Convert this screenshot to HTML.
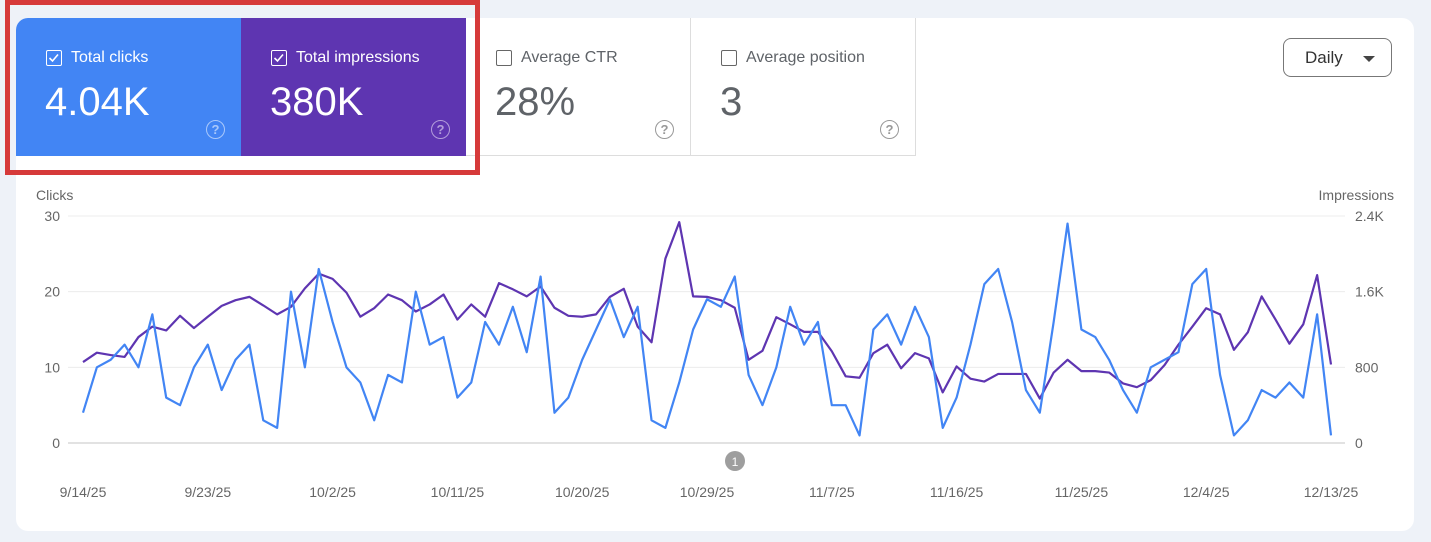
<!DOCTYPE html>
<html><head><meta charset="utf-8"><style>
body{margin:0;width:1431px;height:542px;background:#eef2f8;font-family:"Liberation Sans",Arial,sans-serif;position:relative;overflow:hidden}
.main{position:absolute;left:16px;top:18px;width:1398px;height:513px;background:#fff;border-radius:12px}
.card{position:absolute;top:18px;height:138px;width:225px;box-sizing:border-box}
.lab{position:absolute;left:30px;top:31px;font-size:16px;display:flex;align-items:center}
.cb{width:14px;height:14px;border:1.5px solid;border-radius:2px;margin-right:9px;display:inline-block;position:relative}
.val{position:absolute;left:29px;top:62px;font-size:40px}
.help{position:absolute;right:16px;top:102px;width:17px;height:17px;border:1.8px solid;border-radius:50%;font-size:13px;text-align:center;line-height:17px;font-weight:bold}
</style></head><body>
<div class="main"></div>
<div class="card" style="left:16px;background:#4285f4;color:#fff;border-top-left-radius:12px">
 <div class="lab"><span class="cb" style="border-color:#fff"><svg width="14" height="14" style="position:absolute;left:0;top:0"><path d="M2.5 7l3 3 5.5-6.5" stroke="#fff" stroke-width="1.6" fill="none"/></svg></span>Total clicks</div>
 <div class="val">4.04K</div><div class="help" style="border-color:#a9c8fb;color:#a9c8fb">?</div></div>
<div class="card" style="left:241px;background:#5e35b1;color:#fff">
 <div class="lab"><span class="cb" style="border-color:#fff"><svg width="14" height="14" style="position:absolute;left:0;top:0"><path d="M2.5 7l3 3 5.5-6.5" stroke="#fff" stroke-width="1.6" fill="none"/></svg></span>Total impressions</div>
 <div class="val">380K</div><div class="help" style="border-color:#b39ddb;color:#b39ddb">?</div></div>
<div class="card" style="left:466px;background:#fff;color:#5f6368;border-right:1px solid #ddd;border-bottom:1px solid #ddd">
 <div class="lab"><span class="cb" style="border-color:#666"></span>Average CTR</div>
 <div class="val">28%</div><div class="help" style="border-color:#999;color:#999">?</div></div>
<div class="card" style="left:691px;background:#fff;color:#5f6368;border-right:1px solid #ddd;border-bottom:1px solid #ddd">
 <div class="lab"><span class="cb" style="border-color:#666"></span>Average position</div>
 <div class="val">3</div><div class="help" style="border-color:#999;color:#999">?</div></div>
<div style="position:absolute;left:5px;top:0;width:465px;height:165px;border:5px solid #d63a3a"></div>
<div style="position:absolute;left:1283px;top:38px;width:109px;height:39px;box-sizing:border-box;border:1px solid #777;border-radius:8px;font-size:17px;color:#333;line-height:37px;padding-left:21px">Daily<span style="position:absolute;right:16px;top:17px;border-left:6px solid transparent;border-right:6px solid transparent;border-top:6px solid #444"></span></div>
<svg id="chart" width="1431" height="542" style="position:absolute;left:0;top:0"></svg>
<script>
const dates=["9/14/25","9/23/25","10/2/25","10/11/25","10/20/25","10/29/25","11/7/25","11/16/25","11/25/25","12/4/25","12/13/25"];
const clickTicks=[0,10,20,30];
const imprTicks=["0","800","1.6K","2.4K"];
const clicks=[4,10,11,13,10,17,6,5,10,13,7,11,13,3,2,20,10,23,16,10,8,3,9,8,20,13,14,6,8,16,13,18,12,22,4,6,11,15,19,14,18,3,2,8,15,19,18,22,9,5,10,18,13,16,5,5,1,15,17,13,18,14,2,6,13,21,23,16,7,4,16,29,15,14,11,7,4,10,11,12,21,23,9,1,3,7,6,8,6,17,1];
const impressions=[856,955,930,910,1120,1230,1190,1345,1215,1335,1450,1510,1545,1455,1360,1440,1635,1790,1735,1590,1335,1425,1570,1510,1390,1465,1570,1305,1465,1335,1690,1625,1550,1655,1430,1345,1335,1360,1545,1630,1230,1065,1950,2335,1550,1545,1510,1430,880,975,1330,1255,1175,1175,970,705,690,950,1040,790,950,895,535,810,680,650,730,730,730,470,745,880,760,760,745,630,590,665,825,1040,1230,1425,1360,985,1170,1550,1305,1050,1255,1775,830];
const svg=document.getElementById('chart'),NS="http://www.w3.org/2000/svg";
const x0=83,x1=1331,yTop=216,yBot=443;
const X=i=>x0+(x1-x0)*i/(clicks.length-1);
const YC=v=>yBot-(yBot-yTop)*v/30;
const YI=v=>yBot-(yBot-yTop)*v/2400;
function mk(t,a,txt){const e=document.createElementNS(NS,t);for(const k in a)e.setAttribute(k,a[k]);if(txt!==undefined)e.textContent=txt;svg.appendChild(e);return e;}
clickTicks.forEach((v,k)=>{
 const g=mk('line',{x1:68,x2:1345,y1:YC(v),y2:YC(v),stroke:k?'#ececec':'#e2e2e2','stroke-width':k?1:2});
 
 
 const t=mk('text',{x:60,y:YC(v)+5,'text-anchor':'end','font-size':14,fill:'#666'},v);
 
 
 const r=mk('text',{x:1355,y:YC(v)+5,'font-size':14,fill:'#666'},imprTicks[k]);
 
 
});
const ct=mk('text',{x:36,y:200,'font-size':14,fill:'#666'},'Clicks');


const it=mk('text',{x:1394,y:200,'text-anchor':'end','font-size':14,fill:'#666'},'Impressions');


dates.forEach((d,k)=>{
 const t=mk('text',{x:X(k*9),y:497,'text-anchor':'middle','font-size':14,fill:'#666'},d);
 
 
});
const pi=mk('polyline',{points:impressions.map((v,i)=>X(i)+','+YI(v)).join(' '),fill:'none',stroke:'#5e35b1','stroke-width':2.2,'stroke-linejoin':'round'});


const pc=mk('polyline',{points:clicks.map((v,i)=>X(i)+','+YC(v)).join(' '),fill:'none',stroke:'#4285f4','stroke-width':2.2,'stroke-linejoin':'round'});


const an=mk('circle',{cx:735,cy:461,r:10,fill:'#9e9e9e'});


mk('text',{x:735,y:466,'text-anchor':'middle','font-size':12,fill:'#fff'},'1');
</script>
</body></html>
